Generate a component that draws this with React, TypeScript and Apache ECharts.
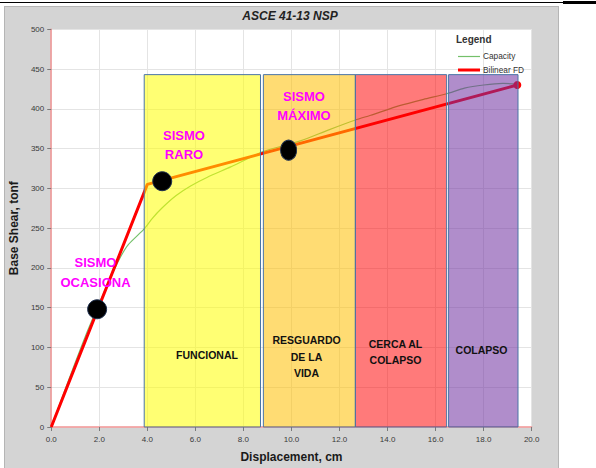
import React, { useEffect, useRef } from "react";
import * as echarts from "echarts";

// Capacity curve (pushover)
const capacityX = [0, 0.5, 1.0, 1.5, 2.0, 2.5, 2.85, 3.2, 3.87, 4.2, 4.6, 5.2, 5.8, 6.5, 7.47, 8.8, 10.4, 11.5, 12.66, 13.3, 14.5, 15.5, 16.46, 17.2, 18.0, 18.8, 19.4];
const capacityY = [0, 41, 81, 120, 156, 190, 212, 229, 249, 262, 275, 291, 303, 314, 327, 346, 360, 373, 386, 392, 404, 412, 419, 426, 430, 432, 431];

// Bilinear FD
const bilinearX = [0, 4.0, 19.4];
const bilinearY = [0, 305, 430];

// Performance points
const pointX = [1.91, 4.62, 9.88];
const pointY = [148, 309, 348];

// Performance zones
const zoneNames = ["FUNCIONAL", "RESGUARDO\nDE LA\nVIDA", "CERCA AL\nCOLAPSO", "COLAPSO"];
const zoneStart = [3.87, 8.83, 12.66, 16.54];
const zoneEnd = [8.71, 12.66, 16.46, 19.43];
const zoneTop = [443, 443, 443, 443];

// Earthquake level labels
const sismoLabels = ["SISMO\nOCASIONA", "SISMO\nRARO", "SISMO\nMÁXIMO"];

const zoneColors = [
  "rgba(255,255,0,0.55)",
  "rgba(255,192,0,0.55)",
  "rgba(255,0,0,0.52)",
  "rgba(112,48,160,0.55)",
];

const FONT = "'Liberation Sans', Arial, sans-serif";

export default function App() {
  const ref = useRef<HTMLDivElement>(null);

  useEffect(() => {
    if (!ref.current) return;
    const chart = echarts.init(ref.current, undefined, { renderer: "svg" });

    const zoneLabelPos = [
      [207, 355, 16],
      [306.5, 356.5, 16.7],
      [395.5, 351.5, 16],
      [481.5, 349.5, 16],
    ];
    const sismoPos = [
      [95.5, 272, 20],
      [184, 144.5, 19],
      [304, 105.5, 19],
    ];

    const option: any = {
      animation: false,
      backgroundColor: "transparent",
      grid: {
        show: true,
        backgroundColor: "#ffffff",
        borderWidth: 0,
        left: 50,
        top: 29.3,
        width: 481.7,
        height: 403,
      },
      xAxis: {
        type: "value",
        min: 0,
        max: 20,
        interval: 2,
        name: "Displacement, cm",
        nameLocation: "middle",
        nameGap: 24,
        nameTextStyle: { fontFamily: FONT, fontWeight: "bold", fontSize: 12, color: "#1a1a1a" },
        axisLine: { show: true, lineStyle: { color: "#F29494", width: 1.5 } },
        axisTick: { show: true, length: 4, lineStyle: { color: "#7a7a7a" } },
        axisLabel: {
          fontFamily: FONT,
          fontSize: 8,
          color: "#3a3a3a",
          margin: 8,
          formatter: (v: number) => v.toFixed(1),
        },
        splitLine: { show: true, lineStyle: { color: "#E4E4E4", width: 1 } },
      },
      yAxis: {
        type: "value",
        min: 0,
        max: 500,
        interval: 50,
        name: "Base Shear, tonf",
        nameLocation: "middle",
        nameGap: 26,
        nameRotate: 90,
        nameTextStyle: { fontFamily: FONT, fontWeight: "bold", fontSize: 12, color: "#1a1a1a" },
        axisLine: { show: true, lineStyle: { color: "#F29494", width: 1.5 } },
        axisTick: { show: true, length: 4, lineStyle: { color: "#7a7a7a" } },
        axisLabel: { fontFamily: FONT, fontSize: 8, color: "#3a3a3a", margin: 7 },
        splitLine: { show: true, lineStyle: { color: "#E4E4E4", width: 1 } },
      },
      series: [
        {
          name: "Capacity",
          type: "line",
          z: 2,
          symbol: "none",
          smooth: 0.2,
          data: capacityX.map((x, i) => [x, capacityY[i]]),
          lineStyle: { color: "#74C06A", width: 1.2 },
        },
        {
          name: "Bilinear FD",
          type: "line",
          z: 2,
          showSymbol: true,
          symbol: "none",
          data: bilinearX.map((x, i) =>
            i === bilinearX.length - 1
              ? { value: [x, bilinearY[i]], symbol: "circle", symbolSize: 8, itemStyle: { color: "#FF0000" } }
              : { value: [x, bilinearY[i]] }
          ),
          lineStyle: { color: "#FF0000", width: 3 },
        },
        {
          name: "zones",
          type: "custom",
          z: 3,
          clip: false,
          data: zoneStart.map((s, i) => [s, zoneEnd[i], zoneTop[i]]),
          encode: { x: [0, 1], y: 2 },
          renderItem: (params: any, api: any) => {
            const p0 = api.coord([api.value(0), api.value(2)]);
            const p1 = api.coord([api.value(1), 0]);
            return {
              type: "rect",
              shape: { x: p0[0], y: p0[1], width: p1[0] - p0[0], height: p1[1] - p0[1] },
              style: { fill: zoneColors[params.dataIndex], stroke: "#4A74A6", lineWidth: 1 },
            };
          },
        },
        {
          name: "points",
          type: "scatter",
          z: 5,
          data: pointX.map((x, i) => [x, pointY[i]]),
          symbolSize: (_v: any, p: any) => (p.dataIndex === 2 ? [16, 20] : [19, 19]),
          itemStyle: { color: "#000000", borderColor: "#1F3050", borderWidth: 1, opacity: 1 },
        },
      ],
      graphic: [
        {
          type: "text",
          x: 290,
          y: 16,
          z: 10,
          style: {
            text: "ASCE 41-13 NSP",
            font: `italic bold 12px ${FONT}`,
            fill: "#222",
            align: "center",
            verticalAlign: "middle",
          },
        },
        // legend
        {
          type: "text",
          x: 456,
          y: 39,
          z: 10,
          style: { text: "Legend", font: `bold 10px ${FONT}`, fill: "#333", align: "left", verticalAlign: "middle" },
        },
        {
          type: "line",
          z: 10,
          shape: { x1: 458, y1: 56.5, x2: 480, y2: 56.5 },
          style: { stroke: "#74C06A", lineWidth: 1.2 },
        },
        {
          type: "text",
          x: 483,
          y: 56,
          z: 10,
          style: { text: "Capacity", font: `8.3px ${FONT}`, fill: "#333", align: "left", verticalAlign: "middle" },
        },
        {
          type: "line",
          z: 10,
          shape: { x1: 458, y1: 70, x2: 480, y2: 70 },
          style: { stroke: "#FF0000", lineWidth: 3 },
        },
        {
          type: "text",
          x: 483,
          y: 70,
          z: 10,
          style: { text: "Bilinear FD", font: `8.3px ${FONT}`, fill: "#333", align: "left", verticalAlign: "middle" },
        },
        ...zoneNames.map((t, i) => ({
          type: "text",
          x: zoneLabelPos[i][0],
          y: zoneLabelPos[i][1],
          z: 10,
          style: {
            text: t,
            font: `bold 10.5px ${FONT}`,
            lineHeight: zoneLabelPos[i][2],
            fill: "#111",
            align: "center",
            verticalAlign: "middle",
          },
        })),
        ...sismoLabels.map((t, i) => ({
          type: "text",
          x: sismoPos[i][0],
          y: sismoPos[i][1],
          z: 10,
          style: {
            text: t,
            font: `bold 13px ${FONT}`,
            lineHeight: sismoPos[i][2],
            fill: "#FF00FF",
            align: "center",
            verticalAlign: "middle",
          },
        })),
      ],
    };

    chart.setOption(option);
    return () => chart.dispose();
  }, []);

  return (
    <div style={{ position: "fixed", left: 0, top: 0, width: 596, height: 468, background: "#fff", overflow: "hidden" }}>
      <div style={{ position: "absolute", left: 0, top: 2, width: 563, height: 1, background: "#000" }} />
      <div style={{ position: "absolute", left: 563, top: 1, width: 33, height: 3, background: "#000" }} />
      <div
        style={{
          position: "absolute",
          left: 4,
          top: 6,
          width: 555,
          height: 470,
          background: "#D4D4D4",
          border: "1px solid #B5B5B5",
          boxSizing: "border-box",
        }}
      />
      <div ref={ref} style={{ position: "absolute", left: 0, top: 0, width: 596, height: 468 }} />
    </div>
  );
}
